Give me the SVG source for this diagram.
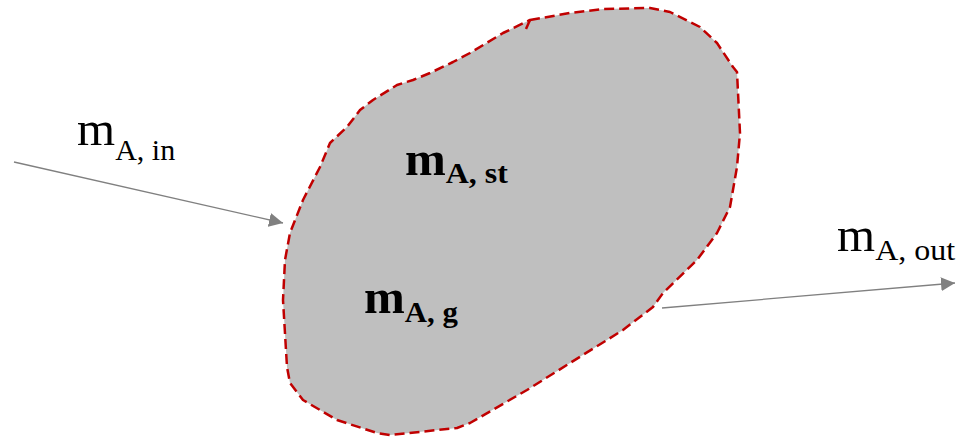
<svg xmlns="http://www.w3.org/2000/svg" width="956" height="439" viewBox="0 0 956 439">
<style>
.lbl{font-family:"Liberation Serif","DejaVu Serif",serif;fill:#000}
.b{font-weight:bold}
.conn{stroke:#808080;stroke-width:1.3;fill:none}
</style>
<defs>
<marker id="ah" viewBox="0 0 10 10" refX="10" refY="5" markerWidth="14" markerHeight="14" markerUnits="userSpaceOnUse" orient="auto">
<path d="M0,0 L10,5 L0,10 z" fill="#808080"/>
</marker>
</defs>
<rect width="956" height="439" fill="#fff"/>
<g id="control-volume">
<path d="M530,20 L570,13 L603,9 L650,8 L670,12 L700,27 L717,43 L733,67 L737,72 L740,133 L737,167 L730,207 L717,233 L697,260 L663,293 L653,307 L623,330 L570,363 L527,390 L470,423 L457,428 L390,435 L377,433 L337,420 L303,400 L290,383 L287,367 L283,300 L285,260 L290,233 L303,200 L320,167 L330,143 L347,127 L360,110 L373,100 L397,85 L413,80 L430,73 L453,62 L470,53 L503,33 Z" fill="#BFBFBF" stroke="#C00000" stroke-width="2.5" stroke-dasharray="10,5" stroke-linejoin="round"/>
<path d="M530,20 L526,29" stroke="#C00000" stroke-width="2.5" fill="none"/>
<text class="lbl b" x="405" y="175" font-size="49">m<tspan font-size="29" dy="8" textLength="62" lengthAdjust="spacingAndGlyphs">A, st</tspan></text>
<text class="lbl b" x="364" y="313" font-size="49">m<tspan font-size="29" dy="9" textLength="53" lengthAdjust="spacingAndGlyphs">A, g</tspan></text>
</g>
<g id="connectors">
<line class="conn" x1="14" y1="162" x2="283" y2="223" marker-end="url(#ah)"/>
<line class="conn" x1="662" y1="308" x2="955" y2="283" marker-end="url(#ah)"/>
</g>
<g id="label-in">
<text class="lbl" x="77" y="145" font-size="49">m<tspan font-size="29" dy="15" textLength="60" lengthAdjust="spacingAndGlyphs">A, in</tspan></text>
</g>
<g id="label-out">
<text class="lbl" x="837" y="251" font-size="49">m<tspan font-size="29" dy="9" textLength="80" lengthAdjust="spacingAndGlyphs">A, out</tspan></text>
</g>
</svg>
